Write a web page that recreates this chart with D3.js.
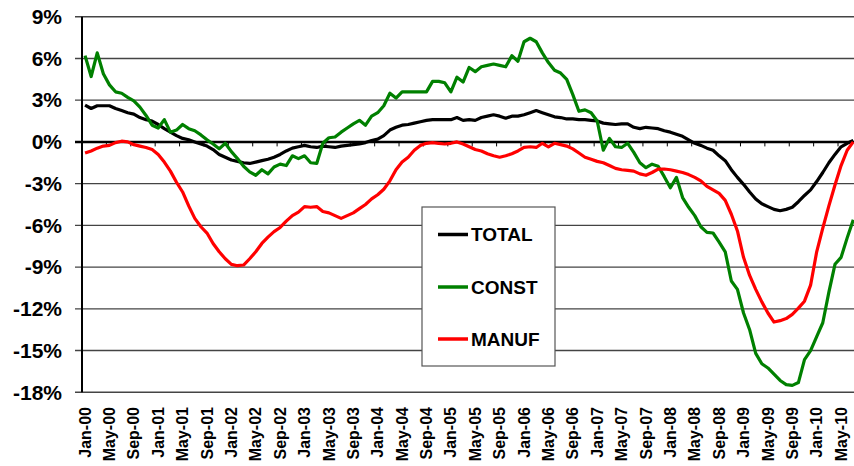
<!DOCTYPE html>
<html>
<head>
<meta charset="utf-8">
<script src="https://cdn.jsdelivr.net/npm/d3@7"></script>
<style>
body { margin: 0; background: #fff; }
svg { display: block; font-family: "Liberation Sans", Arial, sans-serif; font-weight: bold; }
</style>
</head>
<body>
<svg id="chart" width="854" height="466"></svg>
<script>
// month categories, Jan-00 .. Jul-10
var monthNames = ["Jan","Feb","Mar","Apr","May","Jun","Jul","Aug","Sep","Oct","Nov","Dec"];
var years = ["00","01","02","03","04","05","06","07","08","09","10"];
var months = [];
years.forEach(function(y) {
	monthNames.forEach(function(m) { months.push(m + "-" + y); });
});
months = months.slice(0, 127);

// year-over-year change, %
var total = [
	2.65, 2.4, 2.6, 2.6, 2.6, 2.4, 2.25, 2.1, 2.0, 1.75,
	1.6, 1.5, 1.25, 0.95, 0.7, 0.45, 0.25, 0.15, 0.0, -0.15,
	-0.3, -0.55, -0.9, -1.1, -1.3, -1.4, -1.5, -1.55, -1.45, -1.35,
	-1.25, -1.1, -0.9, -0.65, -0.45, -0.35, -0.25, -0.35, -0.4, -0.3,
	-0.35, -0.4, -0.3, -0.25, -0.2, -0.15, -0.05, 0.1, 0.2, 0.45,
	0.85, 1.05, 1.2, 1.25, 1.35, 1.45, 1.55, 1.6, 1.6, 1.6,
	1.6, 1.75, 1.55, 1.6, 1.55, 1.75, 1.85, 1.95, 1.85, 1.7,
	1.85, 1.85, 1.95, 2.1, 2.25, 2.1, 1.95, 1.8, 1.75, 1.65,
	1.65, 1.6, 1.6, 1.55, 1.5, 1.35, 1.3, 1.25, 1.3, 1.3,
	1.05, 0.95, 1.05, 1.0, 0.95, 0.8, 0.7, 0.55, 0.4, 0.15,
	-0.1, -0.25, -0.45, -0.6, -1.0, -1.35, -2.0, -2.55, -3.05, -3.6,
	-4.1, -4.45, -4.65, -4.85, -4.95, -4.85, -4.7, -4.3, -3.85, -3.45,
	-2.85, -2.2, -1.5, -0.9, -0.35, -0.1, 0.1
];
var constr = [
	6.2, 4.7, 6.4, 4.9, 4.1, 3.6, 3.5, 3.2, 2.95, 2.5,
	1.9, 1.2, 1.0, 1.6, 0.7, 0.85, 1.25, 0.95, 0.8, 0.5,
	0.15, -0.15, -0.5, -0.1, -0.7, -1.2, -1.75, -2.15, -2.4, -2.0,
	-2.3, -1.8, -1.6, -1.7, -1.0, -1.2, -1.0, -1.5, -1.55, -0.1,
	0.3, 0.35, 0.7, 1.0, 1.3, 1.55, 1.2, 1.85, 2.1, 2.6,
	3.5, 3.15, 3.6, 3.6, 3.6, 3.6, 3.6, 4.35, 4.35, 4.25,
	3.6, 4.65, 4.3, 5.35, 5.05, 5.4, 5.5, 5.6, 5.5, 5.4,
	6.2, 5.8, 7.2, 7.45, 7.2, 6.4, 5.7, 5.15, 4.95, 4.5,
	3.4, 2.2, 2.3, 2.1, 1.5, -0.6, 0.25, -0.35, -0.4, -0.1,
	-0.75, -1.5, -1.85, -1.6, -1.75, -2.5, -3.3, -2.55, -4.0, -4.7,
	-5.3, -6.1, -6.5, -6.55, -7.2, -7.9, -10.0, -10.6, -12.3, -13.5,
	-15.2, -15.95, -16.25, -16.7, -17.15, -17.45, -17.5, -17.3, -15.65, -15.0,
	-14.0, -13.0, -10.8, -8.8, -8.3, -6.9, -5.6
];
var manuf = [
	-0.8, -0.65, -0.45, -0.3, -0.25, -0.05, 0.05, 0.0, -0.2, -0.3,
	-0.4, -0.55, -0.9, -1.45, -2.1, -2.9, -3.6, -4.6, -5.5, -6.1,
	-6.55, -7.3, -7.9, -8.4, -8.8, -8.9, -8.85, -8.4, -7.9, -7.3,
	-6.85, -6.45, -6.15, -5.7, -5.3, -5.05, -4.65, -4.7, -4.65, -5.0,
	-5.1, -5.3, -5.5, -5.3, -5.1, -4.8, -4.5, -4.1, -3.8, -3.4,
	-2.8, -2.0, -1.45, -1.1, -0.6, -0.25, -0.1, -0.05, -0.1, -0.15,
	-0.1, 0.0, -0.15, -0.35, -0.55, -0.65, -0.85, -1.0, -1.1, -1.0,
	-0.85, -0.65, -0.4, -0.35, -0.4, -0.1, -0.35, -0.1, -0.2, -0.3,
	-0.5, -0.8, -1.1, -1.25, -1.4, -1.5, -1.7, -1.9, -2.0, -2.05,
	-2.1, -2.3, -2.4, -2.2, -1.95, -1.95, -2.0, -2.1, -2.2, -2.35,
	-2.55, -2.8, -3.2, -3.45, -3.7, -4.2, -5.2, -6.4, -8.3, -9.6,
	-10.6, -11.5, -12.3, -12.95, -12.85, -12.7, -12.4, -11.95, -11.45, -10.3,
	-7.9, -6.2, -4.6, -3.1, -1.7, -0.6, 0.0
];
var yTicks = [9, 6, 3, 0, -3, -6, -9, -12, -15, -18];

var series = [
	{ name: "TOTAL", values: total, color: "#000000" },
	{ name: "CONST", values: constr, color: "#008000" },
	{ name: "MANUF", values: manuf, color: "#ff0000" }
];

var svg = d3.select("#chart");
var plotLeft = 82, plotTop = 16.7, plotBottom = 392.3, step = 6.097;

var x = d3.scaleBand()
	.domain(months)
	.range([plotLeft, plotLeft + months.length * step])
	.padding(0);
var cx = function(d) { return x(d) + x.bandwidth() / 2; };

var y = d3.scaleLinear()
	.domain([-18, 9])
	.range([plotBottom, plotTop]);

// gridlines (with small outward ticks on the left)
svg.append("g")
	.selectAll("line")
	.data(yTicks.filter(function(v) { return v !== 0; }))
	.enter().append("line")
		.attr("x1", plotLeft - 7)
		.attr("x2", 854)
		.attr("y1", function(d) { return y(d); })
		.attr("y2", function(d) { return y(d); })
		.attr("stroke", "#444")
		.attr("stroke-width", 1.4);

// y labels
var yAxis = svg.append("g")
	.attr("transform", "translate(" + plotLeft + ",0)")
	.call(d3.axisLeft(y).tickValues(yTicks).tickSize(0).tickPadding(20)
		.tickFormat(function(d) { return d + "%"; }));
yAxis.select(".domain").remove();
yAxis.selectAll("text")
	.attr("fill", "#000")
	.style("font-size", "21px")
	.style("font-weight", "bold")
	.style("font-family", "'Liberation Sans', Arial, sans-serif");

// vertical axis line
svg.append("line")
	.attr("x1", plotLeft).attr("x2", plotLeft)
	.attr("y1", y(9)).attr("y2", y(-18))
	.attr("stroke", "#000")
	.attr("stroke-width", 2);

// zero line + tick marks between categories
var y0 = y(0);
svg.append("line")
	.attr("x1", plotLeft - 7).attr("x2", 854)
	.attr("y1", y0).attr("y2", y0)
	.attr("stroke", "#000")
	.attr("stroke-width", 2.5);

svg.append("g")
	.selectAll("line")
	.data(months.filter(function(d, i) { return i > 0 && i % 4 === 0; }))
	.enter().append("line")
		.attr("x1", function(d) { return x(d); })
		.attr("x2", function(d) { return x(d); })
		.attr("y1", y0)
		.attr("y2", y0 + 4.5)
		.attr("stroke", "#000")
		.attr("stroke-width", 1);

// month labels, rotated
var xAxis = svg.append("g")
	.attr("transform", "translate(0,400)")
	.call(d3.axisBottom(x)
		.tickValues(months.filter(function(d, i) { return i % 4 === 0; }))
		.tickSize(0));
xAxis.select(".domain").remove();
xAxis.selectAll("text")
	.attr("transform", "rotate(-90)")
	.attr("x", -7)
	.attr("y", 0)
	.attr("dy", "0.35em")
	.attr("text-anchor", "end")
	.attr("fill", "#000")
	.style("font-size", "16px")
	.style("font-weight", "bold")
	.style("font-family", "'Liberation Sans', Arial, sans-serif");

// series lines
var line = d3.line()
	.x(function(d, i) { return cx(months[i]); })
	.y(function(d) { return y(d); });

svg.append("g")
	.selectAll("path")
	.data(series)
	.enter().append("path")
		.attr("d", function(s) { return line(s.values); })
		.attr("fill", "none")
		.attr("stroke", function(s) { return s.color; })
		.attr("stroke-width", 3.2)
		.attr("stroke-linejoin", "round");

// legend
var lg = svg.append("g");
lg.append("rect")
	.attr("x", 422).attr("y", 207)
	.attr("width", 133).attr("height", 159)
	.attr("fill", "#fff")
	.attr("stroke", "#555")
	.attr("stroke-width", 1.2);

var items = lg.selectAll("g.item")
	.data(series)
	.enter().append("g")
		.attr("class", "item")
		.attr("transform", function(s, i) { return "translate(0," + [234.5, 287, 339][i] + ")"; });
items.append("line")
	.attr("x1", 438).attr("x2", 468)
	.attr("y1", 0).attr("y2", 0)
	.attr("stroke", function(s) { return s.color; })
	.attr("stroke-width", 3.5);
items.append("text")
	.attr("x", 471)
	.attr("y", 0)
	.attr("dy", "0.36em")
	.style("font-size", "19px")
	.text(function(s) { return s.name; });
</script>
</body>
</html>
